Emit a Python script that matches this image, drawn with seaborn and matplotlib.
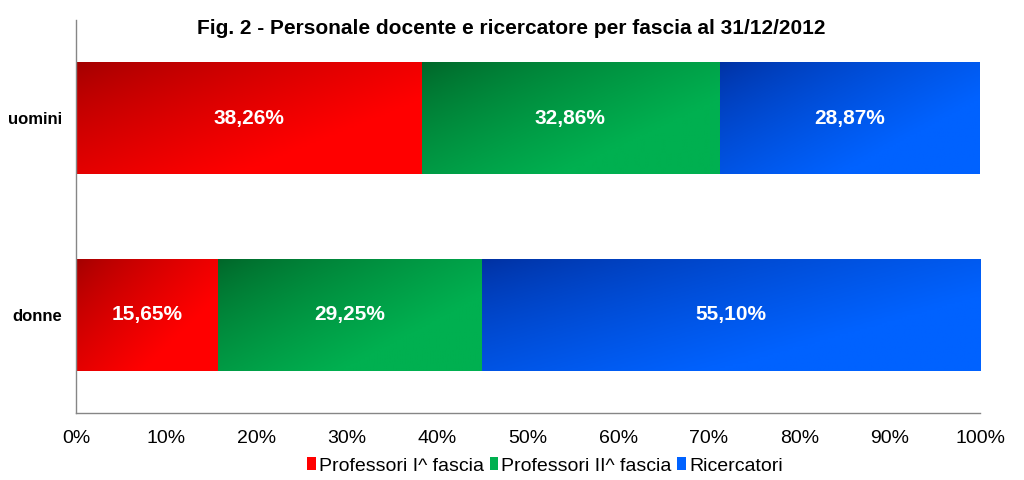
import numpy as np
import pandas as pd
import seaborn as sns
import matplotlib.pyplot as plt
from matplotlib.colors import LinearSegmentedColormap
from matplotlib.patches import Patch

# Dati
categorie = ["uomini", "donne"]
serie = ["Professori I^ fascia", "Professori II^ fascia", "Ricercatori"]
prof_prima = [38.26, 15.65]
prof_seconda = [32.86, 29.25]
ricercatori = [28.87, 55.10]

valori = [prof_prima, prof_seconda, ricercatori]
colori_scuri = ["#a00000", "#006428", "#0030a0"]
colori_chiari = ["#ff0000", "#00b050", "#0062ff"]

sns.set_style("white")
plt.rcParams["font.family"] = ["Liberation Sans", "DejaVu Sans"]
plt.rcParams["text.color"] = "black"
plt.rcParams["xtick.color"] = "black"
plt.rcParams["ytick.color"] = "black"

fig = plt.figure(figsize=(10.24, 4.8), dpi=100)
ax = fig.add_axes([76 / 1024, 67 / 480, 904 / 1024, 393 / 480])

# cumulati per le barre impilate
cum = np.cumsum(np.array(valori), axis=0)
inizi = cum - np.array(valori)

altezza = 0.57
# gradiente diagonale (scuro in alto a sinistra)
u = np.linspace(0, 1, 200)[None, :]
v = np.linspace(0, 1, 60)[:, None]
grad = np.clip((0.75 * u + 0.6 * v) / 0.95, 0, 1) ** 0.75

for i in reversed(range(len(serie))):
    df = pd.DataFrame({"categoria": categorie, "cum": cum[i]})
    n_prima = len(ax.patches)
    sns.barplot(data=df, x="cum", y="categoria", color=colori_chiari[i],
                saturation=1, width=altezza, linewidth=0, ax=ax)
    cmap = LinearSegmentedColormap.from_list(serie[i], [colori_scuri[i], colori_chiari[i]])
    for j, patch in enumerate(ax.patches[n_prima:]):
        x0, x1 = inizi[i][j], cum[i][j]
        y0 = patch.get_y()
        h = patch.get_height()
        img = ax.imshow(grad, cmap=cmap, vmin=0, vmax=1, aspect="auto",
                        origin="upper", extent=(x0, x1, y0 + h, y0),
                        interpolation="bilinear", zorder=patch.get_zorder() + 0.1)
        img.set_clip_path(patch)
        ax.text((x0 + x1) / 2, j, f"{valori[i][j]:.2f}%".replace(".", ","),
                ha="center", va="center", color="white", fontsize=15,
                fontweight="bold", zorder=5)

ax.set_xlim(0, 100)
ax.set_ylim(1.5, -0.5)
ax.set_xticks(np.arange(0, 101, 10))
ax.set_xticklabels([f"{t}%" for t in range(0, 101, 10)], fontsize=14)
ax.set_yticks(range(len(categorie)))
ax.set_yticklabels(categorie, fontsize=12, fontweight="bold")
ax.tick_params(axis="x", length=0, pad=12)
ax.tick_params(axis="y", length=0, pad=10)
ax.set_xlabel("")
ax.set_ylabel("")

for lato in ["top", "right"]:
    ax.spines[lato].set_visible(False)
for lato in ["left", "bottom"]:
    ax.spines[lato].set_color("#868686")
    ax.spines[lato].set_linewidth(1)

fig.text(511 / 1024, 1 - 28 / 480, "Fig. 2 - Personale docente e ricercatore per fascia al 31/12/2012",
         ha="center", va="center", fontsize=15, fontweight="bold")

handles = [Patch(facecolor=c, edgecolor="none") for c in colori_chiari]
fig.legend(handles, serie, loc="center", bbox_to_anchor=(545 / 1024, 1 - 466 / 480),
           ncol=3, frameon=False, fontsize=14, handlelength=0.45, handleheight=0.6,
           handletextpad=0.15, columnspacing=0.3)

plt.savefig("out.png", dpi=100)
